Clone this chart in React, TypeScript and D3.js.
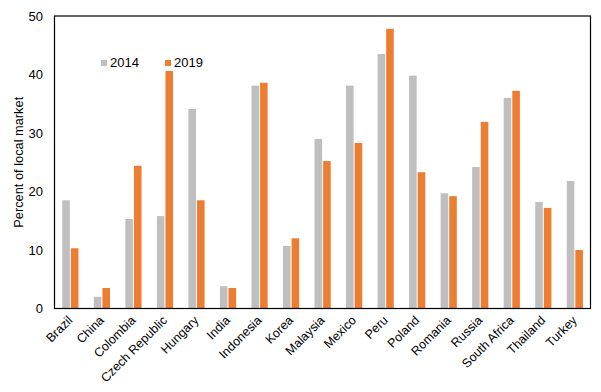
import React from "react";
import * as d3 from "d3";

const countries = ["Brazil","China","Colombia","Czech Republic","Hungary","India","Indonesia","Korea","Malaysia","Mexico","Peru","Poland","Romania","Russia","South Africa","Thailand","Turkey"];
const values2014 = [18.5,2.0,15.3,15.8,34.1,3.8,38.1,10.7,29.0,38.1,43.5,39.8,19.7,24.2,36.0,18.2,21.8];
const values2019 = [10.3,3.5,24.4,40.6,18.5,3.5,38.6,12.0,25.2,28.3,47.8,23.3,19.2,31.9,37.2,17.2,10.0];
const seriesNames = ["2014","2019"];
const yTicks = [0,10,20,30,40,50];
const colors = ["#BFBFBF","#ED7D31"];

const W = 601, H = 392;
const left = 54.5, right = 590.5, top = 16, bottom = 308.5;
const font = "'Liberation Sans', Arial, sans-serif";

export default function App() {
  const x0 = d3.scaleBand<string>().domain(countries).range([left, right]).padding(0);
  const step = x0.step();
  const x1 = d3.scaleBand<string>().domain(seriesNames).range([step/2 - 8, step/2 + 8.2]).paddingInner(0.12);
  const y = d3.scaleLinear().domain([0,50]).range([bottom, top]);
  const series = [values2014, values2019];

  return (
    <svg width={W} height={H} style={{position:"absolute", left:0, top:0, background:"#fff"}} fontFamily={font}>
      <rect x={0} y={0} width={W} height={H} fill="#fff" />
      {series.map((vals, si) => (
        <g key={si}>
          {countries.map((c, i) => (
            <rect key={c} x={(x0(c) as number) + (x1(seriesNames[si]) as number)} y={y(vals[i])}
              width={x1.bandwidth()} height={y(0) - y(vals[i])} fill={colors[si]} />
          ))}
        </g>
      ))}
      <rect x={left} y={top} width={right-left} height={bottom-top} fill="none" stroke="#000" strokeWidth={1.2} />
      {yTicks.map(t => (
        <text key={t} x={43} y={y(t)} dy="0.35em" textAnchor="end" fontSize={13} fill="#000">{t}</text>
      ))}
      {countries.map(c => {
        const cx = (x0(c) as number) + step/2 + 3;
        const cy = bottom + 12.5;
        return (
          <text key={c} x={cx} y={cy} textAnchor="end" fontSize={12.5} fill="#000" transform={`rotate(-45 ${cx} ${cy})`}>{c}</text>
        );
      })}
      <text x={0} y={0} transform={`translate(23 ${(top+bottom)/2}) rotate(-90)`} textAnchor="middle" fontSize={12.8} fill="#000">Percent of local market</text>
      {seriesNames.map((s, i) => {
        const lx = 101 + i*64;
        return (
          <g key={s}>
            <rect x={lx} y={60} width={6} height={6} fill={colors[i]} />
            <text x={lx + 9} y={67} fontSize={13} fill="#000">{s}</text>
          </g>
        );
      })}
    </svg>
  );
}
